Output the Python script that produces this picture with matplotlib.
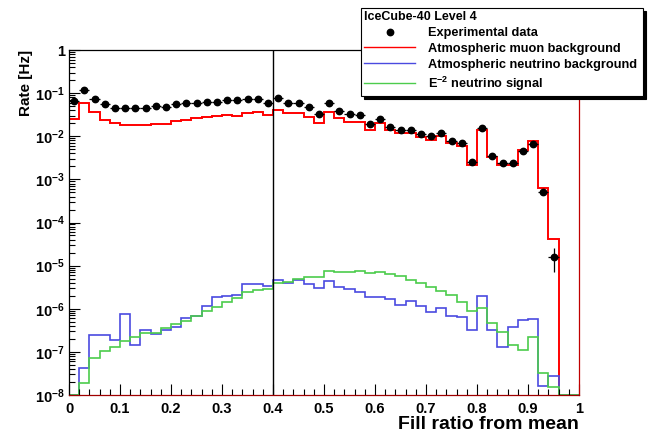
import numpy as np
import matplotlib
matplotlib.use("Agg")
import matplotlib.pyplot as plt
from matplotlib.lines import Line2D
from matplotlib.ticker import LogLocator, NullFormatter, MultipleLocator

plt.rcParams['font.family'] = ['Liberation Sans', 'DejaVu Sans']
plt.rcParams['font.weight'] = 'bold'
plt.rcParams['axes.labelweight'] = 'bold'
plt.rcParams['mathtext.fontset'] = 'custom'
plt.rcParams['mathtext.rm'] = 'Liberation Sans:bold'
plt.rcParams['mathtext.bf'] = 'Liberation Sans:bold'
plt.rcParams['mathtext.it'] = 'Liberation Sans:bold'

# 50 bins of width 0.02 from 0 to 1
bin_width = 0.02
n_bins = 50

# atmospheric muon background (red)
muon_rate = [0.025, 0.060, 0.036, 0.024, 0.0208, 0.0186, 0.0186, 0.0186, 0.0190, 0.0190,
             0.0231, 0.024, 0.0258, 0.0277, 0.0296, 0.031, 0.030, 0.0355, 0.036, 0.0314,
             0.041, 0.0344, 0.0355, 0.0286, 0.0201, 0.0374, 0.0262, 0.0219, 0.0219, 0.0141,
             0.0201, 0.0136, 0.0118, 0.0118, 0.0098, 0.0082, 0.0102, 0.0071, 0.0060, 0.0022,
             0.0136, 0.00327, 0.00217, 0.0021, 0.00484, 0.0079, 0.00063, 4.1e-5, 0.0, 0.0]

# atmospheric neutrino background (blue)
nu_atm_rate = [0.0, 4.2e-8, 2.4e-7, 2.4e-7, 1.9e-7, 7.6e-7, 1.45e-7, 3.2e-7, 2.6e-7, 3.3e-7,
               3.85e-7, 6.0e-7, 6.8e-7, 1.18e-6, 1.85e-6, 1.98e-6, 2.09e-6, 3.7e-6, 3.7e-6, 3.44e-6,
               4.66e-6, 3.9e-6, 4.66e-6, 3.7e-6, 2.99e-6, 4.5e-6, 3.26e-6, 2.83e-6, 2.5e-6, 1.91e-6,
               1.85e-6, 1.69e-6, 1.22e-6, 1.54e-6, 1.16e-6, 8.3e-7, 1.02e-6, 6.8e-7, 6.3e-7, 3.2e-7,
               2.0e-6, 3.2e-7, 1.28e-7, 3.85e-7, 5.5e-7, 5.8e-7, 1.6e-8, 2.76e-8, 0.0, 0.0]

# E^-2 neutrino signal (green)
signal_rate = [0.0, 1.93e-8, 7.1e-8, 1.05e-7, 1.28e-7, 1.79e-7, 2.18e-7, 2.7e-7, 2.8e-7, 3.5e-7,
               4.4e-7, 5.3e-7, 6.8e-7, 8.9e-7, 1.12e-6, 1.46e-6, 1.75e-6, 2.5e-6, 2.75e-6, 2.83e-6,
               3.9e-6, 4.12e-6, 4.83e-6, 5.38e-6, 5.38e-6, 7.66e-6, 7.0e-6, 7.26e-6, 7.66e-6, 6.65e-6,
               7.0e-6, 6.3e-6, 5.77e-6, 4.66e-6, 3.9e-6, 3.26e-6, 2.63e-6, 2.09e-6, 1.46e-6, 8.9e-7,
               1.02e-6, 4.6e-7, 2.94e-7, 1.45e-7, 1.1e-7, 2.25e-7, 3.2e-8, 1.56e-8, 0.0, 0.0]

# experimental data, one point per bin up to 0.96
data_rate = [0.064, 0.117, 0.072, 0.056, 0.046, 0.045, 0.046, 0.046, 0.050, 0.048,
             0.057, 0.058, 0.060, 0.063, 0.063, 0.071, 0.068, 0.072, 0.072, 0.0586,
             0.0766, 0.0586, 0.0605, 0.0473, 0.0326, 0.058, 0.0388, 0.0326, 0.0308, 0.0191,
             0.025, 0.0168, 0.0143, 0.0141, 0.0114, 0.0100, 0.0122, 0.0079, 0.0071, 0.00255,
             0.0154, 0.0035, 0.00238, 0.00245, 0.00466, 0.0067, 0.00052, 1.6e-5]
last_err = (9e-6, 1.0e-5)

cut_value = 0.4
ytick_labels = [r'$\mathbf{10^{-8}}$', r'$\mathbf{10^{-7}}$', r'$\mathbf{10^{-6}}$', r'$\mathbf{10^{-5}}$',
                r'$\mathbf{10^{-4}}$', r'$\mathbf{10^{-3}}$', r'$\mathbf{10^{-2}}$', r'$\mathbf{10^{-1}}$', '1']
xtick_labels = ['0', '0.1', '0.2', '0.3', '0.4', '0.5', '0.6', '0.7', '0.8', '0.9', '1']

ymin, ymax = 1e-8, 1.0
edges = np.arange(n_bins + 1) * bin_width
centers = edges[:len(data_rate)] + bin_width / 2

fig = plt.figure(figsize=(6.54, 4.34), dpi=100)
ax = fig.add_axes([69/654, 1 - 395/434, 510/654, 345/434])

ax.stairs(np.clip(muon_rate, ymin, None), edges, color='#ff0000', lw=1.4)
ax.stairs(np.clip(nu_atm_rate, ymin, None), edges, color='#4a4ae0', lw=1.2)
ax.stairs(np.clip(signal_rate, ymin, None), edges, color='#4ccc4c', lw=1.2)

yerr = np.zeros((2, len(data_rate)))
yerr[:, -1] = last_err
ax.errorbar(centers, data_rate, xerr=bin_width / 2, yerr=yerr, fmt='none',
            ecolor='black', elinewidth=0.9, zorder=5)
ax.plot(centers, data_rate, 'o', color='black', ms=4.6, zorder=6)

ax.axvline(cut_value, color='black', lw=1.0)

ax.set_yscale('log')
ax.set_xlim(0, 1)
ax.set_ylim(ymin, ymax)
ax.set_xticks(np.arange(11) * 0.1, xtick_labels)
ax.xaxis.set_minor_locator(MultipleLocator(0.02))
ax.set_yticks([10.0 ** k for k in range(-8, 1)], ytick_labels)
ax.yaxis.set_minor_locator(LogLocator(base=10, subs=np.arange(2, 10), numticks=20))
ax.yaxis.set_minor_formatter(NullFormatter())
ax.tick_params(which='both', direction='in', top=False, right=False, labelsize=10.5, width=0.8)
ax.tick_params(which='major', length=8)
ax.tick_params(which='minor', length=4)
ax.tick_params(axis='x', pad=5)
ax.tick_params(axis='y', pad=3)

for s in ax.spines.values():
    s.set_linewidth(0.9)
ax.spines['bottom'].set_color('#a00000')
ax.spines['right'].set_color('#c00000')

ax.set_xlabel('Fill ratio from mean', fontsize=14, loc='right', labelpad=0)
ax.set_ylabel('Rate [Hz]', fontsize=11, loc='top', labelpad=1)

legend_labels = ['Experimental data', 'Atmospheric muon background',
                 'Atmospheric neutrino background', r'$\mathbf{E^{-2}}$ neutrino signal']
handles = [Line2D([], [], ls='none', marker='o', color='black', ms=4.6),
           Line2D([], [], color='#ff0000', lw=1.0),
           Line2D([], [], color='#4a4ae0', lw=1.0),
           Line2D([], [], color='#4ccc4c', lw=1.0)]

leg = fig.legend(handles, legend_labels, title='IceCube-40 Level 4', loc='upper left',
                 bbox_to_anchor=(361/654, 1 - 92/434, 282/654, 84/434), mode='expand',
                 borderaxespad=0, fontsize=9.2,
                 title_fontproperties={'weight': 'bold', 'size': 9},
                 alignment='left', fancybox=False, edgecolor='black', framealpha=1,
                 shadow={'color': 'black', 'alpha': 1}, handlelength=4.0, handletextpad=1.0,
                 labelspacing=0.3, borderpad=0.25)
leg.get_frame().set_linewidth(0.8)

fig.savefig('out.png', dpi=100)
